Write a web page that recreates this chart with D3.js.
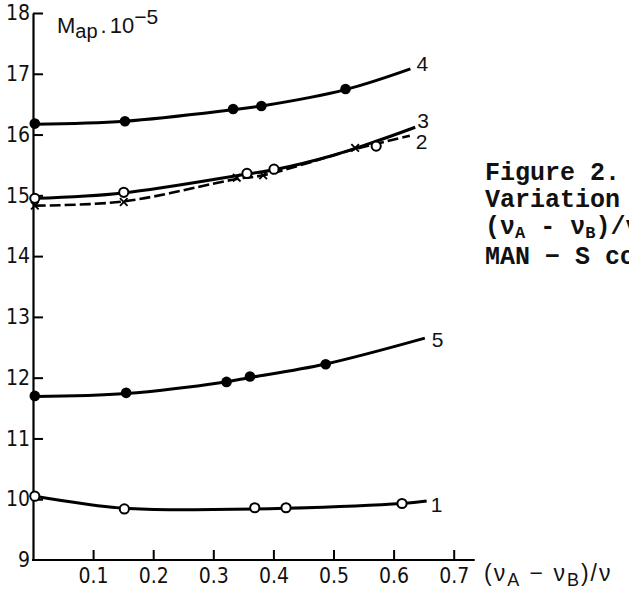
<!DOCTYPE html>
<html>
<head>
<meta charset="utf-8">
<script src="https://cdn.jsdelivr.net/npm/d3@7"></script>
<style>
  body { margin: 0; background: #fff; overflow: hidden; }
  svg { display: block; }
  .tick text { font-family: "Liberation Sans Narrow", "DejaVu Sans Condensed", "Arial Narrow", sans-serif; }
</style>
</head>
<body>
<div id="chart"></div>
<script>
// axis ticks
var xTicks = [0.1, 0.2, 0.3, 0.4, 0.5, 0.6, 0.7];
var xTickLabels = ["0.1", "0.2", "0.3", "0.4", "0.5", "0.6", "0.7"];
var yTicks = [9, 10, 11, 12, 13, 14, 15, 16, 17, 18];

// curves as [x, M/1e5]
var curve1Line = [[0.003,10.05],[0.152,9.85],[0.3,9.83],[0.42,9.85],[0.614,9.93],[0.655,9.97]];
var curve2Line = [[0.003,14.83],[0.151,14.9],[0.339,15.27],[0.383,15.33],[0.536,15.76],[0.627,15.98]];
var curve3Line = [[0.003,14.95],[0.151,15.04],[0.356,15.35],[0.401,15.42],[0.5,15.66],[0.577,15.91],[0.636,16.12]];
var curve4Line = [[0.003,16.17],[0.153,16.22],[0.333,16.41],[0.38,16.47],[0.52,16.74],[0.628,17.08]];
var curve5Line = [[0.003,11.69],[0.155,11.74],[0.32,11.93],[0.36,12.0],[0.485,12.22],[0.652,12.65]];

// measured points
var openPoints = [[0.003,10.05],[0.152,9.84],[0.369,9.86],[0.421,9.86],[0.614,9.93],
                  [0.003,14.95],[0.151,15.05],[0.356,15.36],[0.401,15.43],[0.571,15.81]];
var filledPoints = [[0.003,16.18],[0.153,16.22],[0.333,16.42],[0.38,16.47],[0.52,16.75],
                    [0.003,11.7],[0.155,11.75],[0.322,11.93],[0.361,12.02],[0.487,12.22]];
var crossPoints = [[0.003,14.83],[0.151,14.89],[0.339,15.29],[0.383,15.33],[0.536,15.78]];

var curveNames = ["1", "2", "3", "4", "5"];
var xAxisEnd = 0.735;

var width = 629, height = 593;

var svg = d3.select("#chart").append("svg")
  .attr("width", width)
  .attr("height", height);

var x = d3.scaleLinear().domain([0, 0.7]).range([33, 453.7]);
var y = d3.scaleLinear().domain([9, 18]).range([560, 13]);

// y axis, ticks pointing inwards
var yAxis = svg.append("g")
  .attr("transform", "translate(" + x(0) + ",0)")
  .call(d3.axisLeft(y).tickValues(yTicks).tickFormat(d3.format("d"))
    .tickSizeInner(-10).tickSizeOuter(0).tickPadding(3));
yAxis.select(".domain").attr("stroke-width", 2.2);
yAxis.selectAll(".tick line").attr("stroke-width", 2);
yAxis.selectAll(".tick text").attr("font-size", 21).attr("fill", "#111");
yAxis.selectAll(".tick").filter(function(d) { return d === 9; }).select("line").remove();

// x axis
var xAxis = svg.append("g")
  .attr("transform", "translate(0," + y(9) + ")")
  .call(d3.axisBottom(x).tickValues(xTicks)
    .tickFormat(function(d, i) { return xTickLabels[i]; })
    .tickSizeInner(-10).tickSizeOuter(0).tickPadding(8));
xAxis.select(".domain").remove();
xAxis.append("line")
  .attr("x1", x(0) - 1).attr("x2", x(xAxisEnd))
  .attr("stroke", "#000").attr("stroke-width", 2.2);
xAxis.selectAll(".tick line").attr("stroke-width", 2);
xAxis.selectAll(".tick text").attr("font-size", 21).attr("fill", "#111");

// axis titles
var yTitle = svg.append("text")
  .attr("x", 57).attr("y", 33)
  .attr("font-family", "'Liberation Sans', Arial, sans-serif")
  .attr("font-size", 22).attr("fill", "#111");
yTitle.append("tspan").text("M");
yTitle.append("tspan").attr("dy", 5).attr("font-size", 20).text("ap");
yTitle.append("tspan").attr("dy", -5).attr("dx", 3).text(".");
yTitle.append("tspan").attr("dx", 3).text("10");
yTitle.append("tspan").attr("dy", -9).attr("font-size", 21).text("\u22125");

var xTitle = svg.append("text")
  .attr("x", 484).attr("y", 581)
  .attr("font-family", "'Liberation Sans', Arial, sans-serif")
  .attr("font-size", 23).attr("letter-spacing", 2).attr("fill", "#111");
xTitle.append("tspan").text("(\u03bd");
xTitle.append("tspan").attr("dy", 5).attr("font-size", 18).text("A");
xTitle.append("tspan").attr("dy", -5).text(" \u2212 \u03bd");
xTitle.append("tspan").attr("dy", 5).attr("font-size", 18).text("B");
xTitle.append("tspan").attr("dy", -5).text(")/\u03bd");

// curves
var line = d3.line()
  .x(function(d) { return x(d[0]); })
  .y(function(d) { return y(d[1]); })
  .curve(d3.curveCatmullRom.alpha(0.5));

var curves = [curve1Line, curve2Line, curve3Line, curve4Line, curve5Line];
var labelOffsets = [[4, 3], [6, 6], [2, -7], [6, -5], [7, 1]];

curves.forEach(function(c, i) {
  svg.append("path")
    .attr("d", line(c))
    .attr("fill", "none")
    .attr("stroke", "#000")
    .attr("stroke-width", i === 1 ? 2.6 : 3)
    .attr("stroke-dasharray", i === 1 ? "11,4" : null)
    .attr("stroke-linecap", "butt");
  var last = c[c.length - 1];
  svg.append("text")
    .attr("x", x(last[0]) + labelOffsets[i][0])
    .attr("y", y(last[1]) + labelOffsets[i][1])
    .attr("dominant-baseline", "central")
    .attr("font-family", "'Liberation Sans', Arial, sans-serif")
    .attr("font-size", 21).attr("fill", "#111")
    .text(curveNames[i]);
});

// markers
svg.selectAll(".filled").data(filledPoints).enter().append("circle")
  .attr("cx", function(d) { return x(d[0]); })
  .attr("cy", function(d) { return y(d[1]); })
  .attr("r", 5.3).attr("fill", "#000");

svg.selectAll(".open").data(openPoints).enter().append("circle")
  .attr("cx", function(d) { return x(d[0]); })
  .attr("cy", function(d) { return y(d[1]); })
  .attr("r", 4.6).attr("fill", "#fff").attr("stroke", "#000").attr("stroke-width", 2);

svg.selectAll(".cross").data(crossPoints).enter().append("path")
  .attr("transform", function(d) { return "translate(" + x(d[0]) + "," + y(d[1]) + ")"; })
  .attr("d", "M-3.8,-3.8L3.8,3.8M-3.8,3.8L3.8,-3.8")
  .attr("stroke", "#000").attr("stroke-width", 1.8);

// caption on the right, cut off by the page edge as in the source
var captionLines = ["Figure 2.", "Variation of", null, "MAN \u2212 S co"];
var caption = svg.append("g")
  .attr("font-family", "'Liberation Mono', 'Courier New', monospace")
  .attr("font-weight", "bold")
  .attr("font-size", 25)
  .attr("fill", "#111");
captionLines.forEach(function(t, i) {
  var tx = caption.append("text").attr("x", 485).attr("y", 180 + i * 27 + (i === 3 ? 3 : 0));
  if (t !== null) {
    tx.text(t);
  } else {
    tx.append("tspan").text("(\u03bd");
    tx.append("tspan").attr("dy", 4).attr("font-size", 17).text("A");
    tx.append("tspan").attr("dy", -4).text(" - \u03bd");
    tx.append("tspan").attr("dy", 4).attr("font-size", 17).text("B");
    tx.append("tspan").attr("dy", -4).text(")/\u03bd");
  }
});
</script>
</body>
</html>
